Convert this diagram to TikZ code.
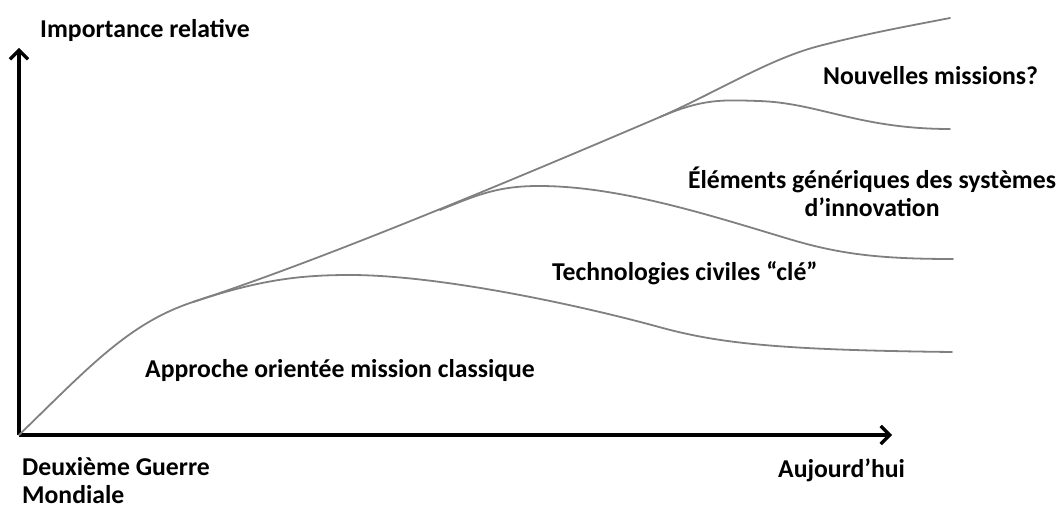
\documentclass[tikz,border=0pt]{standalone}
\usepackage{fontspec}
\setmainfont{Carlito}
\usetikzlibrary{arrows.meta}

\tikzset{
  axis/.style={line width=3.3pt,-{Straight Barb[length=9pt,width=18pt]}},
  trend/.style={draw=black!50,line width=1.8pt,line cap=round},
  lbl/.style={font=\fontsize{25.7}{28}\selectfont\bfseries,inner sep=0pt},
}

\begin{document}
\begin{tikzpicture}[x=1pt,y=1pt]
  \useasboundingbox (-19,-74) rectangle (1045,435);
  \coordinate (O) at (0,0);
  \coordinate (xend) at (873,0);
  \coordinate (yend) at (0,387);
  % where the branches leave the main curve
  \coordinate (k1) at (174,133);
  \coordinate (k2) at (421,225);
  \coordinate (k3) at (641,318);
  % axes
  \draw[axis] (O) -- (xend);
  \draw[axis] (O) -- (yend);
  % main curve
  \draw[trend] (O) .. controls (70,68) and (110,112) .. (k1)
    .. controls (270,164.5) and (400,215) .. (k3)
    .. controls (700,344) and (750,376) .. (800,389)
    .. controls (850,402) and (890,409) .. (931,417);
  % branches
  \draw[trend] (k1) .. controls (240,155) and (280,160) .. (331,160)
    .. controls (420,160) and (560,130) .. (640,108)
    .. controls (700,91.5) and (760,85) .. (933,83);
  \draw[trend] (k2) .. controls (460,241) and (480,249) .. (520,249)
    .. controls (600,249) and (690,220) .. (770,196)
    .. controls (820,181) and (860,176) .. (934,176);
  \draw[trend] (k3) .. controls (685,337) and (705,335) .. (740,334)
    .. controls (800,332) and (840,306) .. (931,306);
  % labels
  \node[lbl,anchor=base west] (ylbl) at (21,397) {Importance relative};
  \node[lbl,anchor=base west] (newm) at (804,350) {Nouvelles missions?};
  \node[lbl,align=center,anchor=north] (gen) at (853,268)
    {Éléments génériques des systèmes\\d’innovation};
  \node[lbl,anchor=base west] (tech) at (533,155) {Technologies civiles “clé”};
  \node[lbl,anchor=base west] (classic) at (126,58)
    {Approche orientée mission classique};
  \node[lbl,align=left,anchor=base west] (start) at (3,-68)
    {Deuxième Guerre\\Mondiale};
  \node[lbl,anchor=base west] (today) at (759,-42) {Aujourd’hui};
\end{tikzpicture}
\end{document}
